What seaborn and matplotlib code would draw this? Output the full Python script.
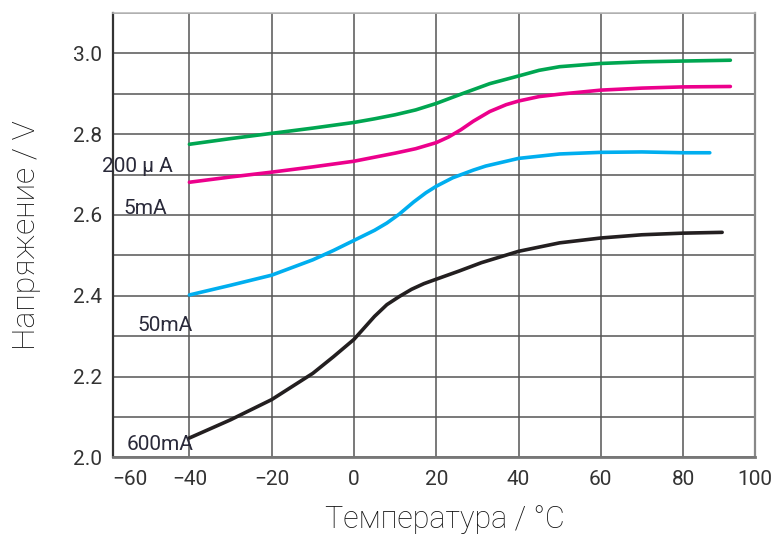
import matplotlib
matplotlib.use("Agg")
import matplotlib.pyplot as plt
from matplotlib.ticker import MultipleLocator
import seaborn as sns
import pandas as pd

# values
temp_200ua = [-40, -30, -20, -10, 0, 5, 10, 15, 20, 26, 33, 40, 45, 50, 60, 70, 80, 91.5]
volt_200ua = [2.775, 2.789, 2.802, 2.815, 2.829, 2.838, 2.848, 2.860, 2.876, 2.899, 2.925,
              2.944, 2.958, 2.967, 2.975, 2.979, 2.981, 2.983]

temp_5ma = [-40, -30, -20, -10, 0, 5, 10, 15, 20, 23, 26, 29, 33, 37, 40, 45, 50,
            60, 70, 80, 91.5]
volt_5ma = [2.681, 2.694, 2.706, 2.719, 2.733, 2.743, 2.753, 2.764, 2.779, 2.793, 2.811,
            2.832, 2.856, 2.873, 2.882, 2.893, 2.899, 2.909, 2.914, 2.917, 2.918]

temp_50ma = [-40, -30, -20, -10, -5, 0, 5, 8, 11, 14.5, 17.5, 20, 24, 29, 32, 40, 50,
             60, 70, 80, 86.5]
volt_50ma = [2.402, 2.426, 2.451, 2.489, 2.512, 2.537, 2.562, 2.580, 2.602, 2.632, 2.655,
             2.671, 2.692, 2.711, 2.721, 2.740, 2.751, 2.755, 2.756, 2.754, 2.754]

temp_600ma = [-40, -30, -20, -10, -5, 0, 5, 8, 11, 14, 17, 20, 25.5, 31, 40, 50, 60, 70,
              80, 89.5]
volt_600ma = [2.048, 2.093, 2.143, 2.208, 2.249, 2.292, 2.349, 2.378, 2.398, 2.416, 2.430,
              2.441, 2.461, 2.482, 2.510, 2.531, 2.543, 2.551, 2.555, 2.557]

currents = ["200 µ A", "5mA", "50mA", "600mA"]
colors = ["#00A651", "#EC008C", "#00AEEF", "#231F20"]
x_ticks = [-40, -20, 0, 20, 40, 60, 80]
y_ticks = [2.0, 2.2, 2.4, 2.6, 2.8, 3.0]

frames = []
for name, t, v in zip(currents,
                      [temp_200ua, temp_5ma, temp_50ma, temp_600ma],
                      [volt_200ua, volt_5ma, volt_50ma, volt_600ma]):
    frames.append(pd.DataFrame({"temp": t, "volt": v, "current": name}))
df = pd.concat(frames, ignore_index=True)

sns.set_style("white")
plt.rcParams["font.family"] = ["Roboto", "DejaVu Sans"]

fig = plt.figure(figsize=(7.76, 5.40), dpi=100)
ax = fig.add_axes([0.146, 0.153, 0.827, 0.823])

sns.lineplot(data=df, x="temp", y="volt", hue="current", hue_order=currents,
             palette=dict(zip(currents, colors)), linewidth=2.6, errorbar=None,
             legend=False, ax=ax, solid_joinstyle="round", solid_capstyle="round")

ax.set_xlim(-58.5, 97.5)
ax.set_ylim(2.0, 3.1)
ax.set_xticks(x_ticks)
ax.yaxis.set_minor_locator(MultipleLocator(0.1))
ax.set_yticks(y_ticks)
ax.yaxis.set_major_formatter(lambda v, p: f"{v:.1f}")
ax.grid(True, which="both", axis="y", color="#555555", linewidth=1.1)
ax.grid(True, which="major", axis="x", color="#555555", linewidth=1.1)
ax.set_axisbelow(True)
ax.tick_params(axis="both", which="both", length=0, labelsize=15, colors="#333333")
ax.tick_params(axis="x", pad=9)
ax.tick_params(axis="y", pad=8)

# the outer tick labels sit beyond the plotting frame
for xv, lab in [(-54.5, "\u221260"), (97.5, "100")]:
    ax.annotate(lab, xy=(xv, 0), xycoords=("data", "axes fraction"),
                xytext=(0, -9), textcoords="offset points",
                ha="center", va="top", fontsize=15, color="#333333")

for sp, col, lw in [("left", "#333333", 1.6), ("bottom", "#777777", 2.0),
                    ("right", "#888888", 1.6), ("top", "#bbbbbb", 1.2)]:
    ax.spines[sp].set_color(col)
    ax.spines[sp].set_linewidth(lw)

# curve labels
label_pos = [(-61.2, 2.721), (-56.0, 2.615), (-52.6, 2.327), (-55.3, 2.033)]
for name, (xt, yt) in zip(currents, label_pos):
    ax.text(xt, yt, name, fontsize=15, color="#2a2a3a", ha="left", va="center")

ax.set_xlabel("Температура / °C", fontsize=22, color="#111111", fontweight="light")
ax.set_ylabel("Напряжение / V", fontsize=23, color="#111111", fontweight="light")
ax.xaxis.set_label_coords(0.517, -0.108)
ax.yaxis.set_label_coords(-0.112, 0.5)

fig.savefig("out.png", dpi=100)
